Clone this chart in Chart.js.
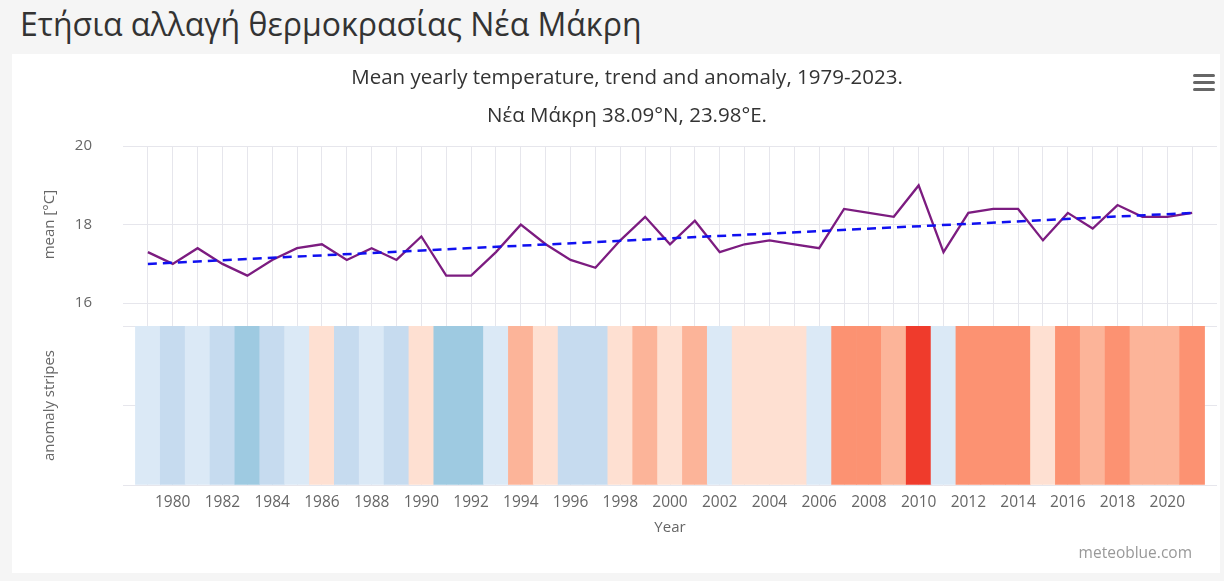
<!DOCTYPE html>
<html>
<head>
<meta charset="utf-8">
<script src="https://cdn.jsdelivr.net/npm/chart.js@4.4.1/dist/chart.umd.min.js"></script>
<style>
  body { margin: 0; background: #f5f5f5; font-family: "Open Sans", sans-serif; width: 1224px; height: 581px; overflow: hidden; position: relative; }
  h1 { position: absolute; left: 20px; top: 2px; margin: 0; font-weight: 400; font-size: 32px; color: #333; }
  #card { position: absolute; left: 12px; top: 54px; width: 1208px; height: 519px; background: #fff; }
  #chart { position: absolute; left: 0; top: 0; }
  .bar { position: absolute; left: 1181px; width: 22px; height: 3px; border-radius: 2px; background: #666; }
  #credit { position: absolute; right: 28px; top: 487px; font-size: 15.5px; color: #999; }
</style>
</head>
<body>
<h1>Ετήσια αλλαγή θερμοκρασίας Νέα Μάκρη</h1>
<div id="card">
  <canvas id="chart" width="1208" height="519"></canvas>
  <div class="bar" style="top:20px"></div>
  <div class="bar" style="top:27px"></div>
  <div class="bar" style="top:34px"></div>
  <div id="credit">meteoblue.com</div>
</div>
<script>
// yearly mean temperature
const years = [1979, 1980, 1981, 1982, 1983, 1984, 1985, 1986, 1987, 1988,
    1989, 1990, 1991, 1992, 1993, 1994, 1995, 1996, 1997, 1998,
    1999, 2000, 2001, 2002, 2003, 2004, 2005, 2006, 2007, 2008,
    2009, 2010, 2011, 2012, 2013, 2014, 2015, 2016, 2017, 2018,
    2019, 2020, 2021];
const meanTemp = [17.3, 17.0, 17.4, 17.0, 16.7, 17.1, 17.4, 17.5, 17.1, 17.4,
    17.1, 17.7, 16.7, 16.7, 17.3, 18.0, 17.5, 17.1, 16.9, 17.6,
    18.2, 17.5, 18.1, 17.3, 17.5, 17.6, 17.5, 17.4, 18.4, 18.3,
    18.2, 19.0, 17.3, 18.3, 18.4, 18.4, 17.6, 18.3, 17.9, 18.5,
    18.2, 18.2, 18.3];
// anomaly class of each stripe (-3 coldest ... 4 warmest)
const anomalyClass = [-1, -2, -1, -2, -3, -2, -1, 1, -2, -1,
    -2, 1, -3, -3, -1, 2, 1, -2, -2, 1,
    2, 1, 2, -1, 1, 1, 1, -1, 3, 3,
    2, 4, -1, 3, 3, 3, 1, 3, 2, 3,
    2, 2, 3];
const trendYears = [1979, 2021];
const trendTemp = [17.0, 18.3];
const meanTicks = [16, 18, 20];

const palette = { '-3': '#9ecae1', '-2': '#c6dbef', '-1': '#dbe9f6', '1': '#fee0d2', '2': '#fcb499', '3': '#fc9272', '4': '#ef3b2c' };
const grey = '#666666';
const gridColor = '#e6e6ec';
const family = '"Open Sans", sans-serif';
const axisWidth = s => { s.width = 86; };

const ctx = document.getElementById('chart').getContext('2d');
const chart = new Chart(ctx, {
    type: 'line',
    data: {
        datasets: [
            {
                label: 'trend',
                data: trendYears.map((y, i) => ({ x: y, y: trendTemp[i] })),
                yAxisID: 'yMean',
                borderColor: '#1010f0',
                borderWidth: 2.5,
                borderDash: [9, 6],
                pointRadius: 0,
                order: 0
            },
            {
                label: 'mean',
                data: years.map((y, i) => ({ x: y, y: meanTemp[i] })),
                yAxisID: 'yMean',
                borderColor: '#7c1c80',
                borderWidth: 2.3,
                pointRadius: 0,
                tension: 0,
                order: 1
            },
            {
                type: 'bar',
                label: 'anomaly',
                data: years.map(y => ({ x: y, y: 1 })),
                yAxisID: 'yStripes',
                backgroundColor: anomalyClass.map(c => palette[c]),
                borderWidth: 0,
                barPercentage: 1,
                categoryPercentage: 1,
                order: 2
            }
        ]
    },
    options: {
        responsive: false,
        animation: false,
        devicePixelRatio: 1,
        layout: { padding: { left: 25, right: 3, top: 0, bottom: 28 } },
        plugins: {
            legend: { display: false },
            tooltip: { enabled: false },
            title: {
                display: true,
                text: 'Mean yearly temperature, trend and anomaly, 1979-2023.',
                color: '#333',
                font: { family, size: 20.5, weight: 'normal' },
                padding: { top: 12, bottom: 13 }
            },
            subtitle: {
                display: true,
                text: 'Νέα Μάκρη 38.09°N, 23.98°E.',
                color: '#333',
                font: { family, size: 20.5, weight: 'normal' },
                padding: { top: 0, bottom: 18 }
            }
        },
        scales: {
            x: {
                type: 'linear',
                min: 1978,
                max: 2022,
                offset: false,
                grid: {
                    offset: false,
                    drawTicks: false,
                    color: c => (c.tick && (c.tick.value <= 1978 || c.tick.value >= 2022)) ? 'rgba(0,0,0,0)' : gridColor
                },
                border: { display: false },
                ticks: {
                    stepSize: 1,
                    autoSkip: false,
                    maxRotation: 0,
                    padding: 8.7,
                    color: grey,
                    font: { family, size: 15.5 },
                    callback: v => (v % 2 === 0 && v > 1978 && v < 2022) ? String(v) : ''
                },
                title: { display: true, text: 'Year', color: grey, font: { family, size: 15 }, padding: { top: 0, bottom: 8 } },
                afterFit: s => { s.height = 60; s.paddingLeft = 0; s.paddingRight = 0; }
            },
            yStripes: {
                type: 'linear',
                position: 'left',
                stack: 'v',
                stackWeight: 159,
                min: 0,
                max: 1,
                grid: { color: gridColor, drawTicks: false },
                border: { display: false },
                ticks: { stepSize: 0.5, callback: () => '', padding: 0 },
                title: { display: true, text: 'anomaly stripes', color: grey, font: { family, size: 15 }, padding: { top: 4 } },
                afterFit: axisWidth
            },
            yGap: {
                type: 'linear',
                position: 'left',
                stack: 'v',
                stackWeight: 23,
                grid: { display: false },
                border: { display: false },
                ticks: { display: false },
                afterFit: axisWidth
            },
            yMean: {
                type: 'linear',
                position: 'left',
                stack: 'v',
                stackWeight: 157,
                min: 16,
                max: 20,
                afterBuildTicks: s => { s.ticks = meanTicks.map(v => ({ value: v })); },
                grid: { color: gridColor, drawTicks: false },
                border: { display: false },
                ticks: { color: grey, padding: 31, font: { family, size: 15 } },
                title: { display: true, text: 'mean [°C]', color: grey, font: { family, size: 15 }, padding: { top: 4 } },
                afterFit: axisWidth
            }
        }
    }
});
</script>
</body>
</html>
